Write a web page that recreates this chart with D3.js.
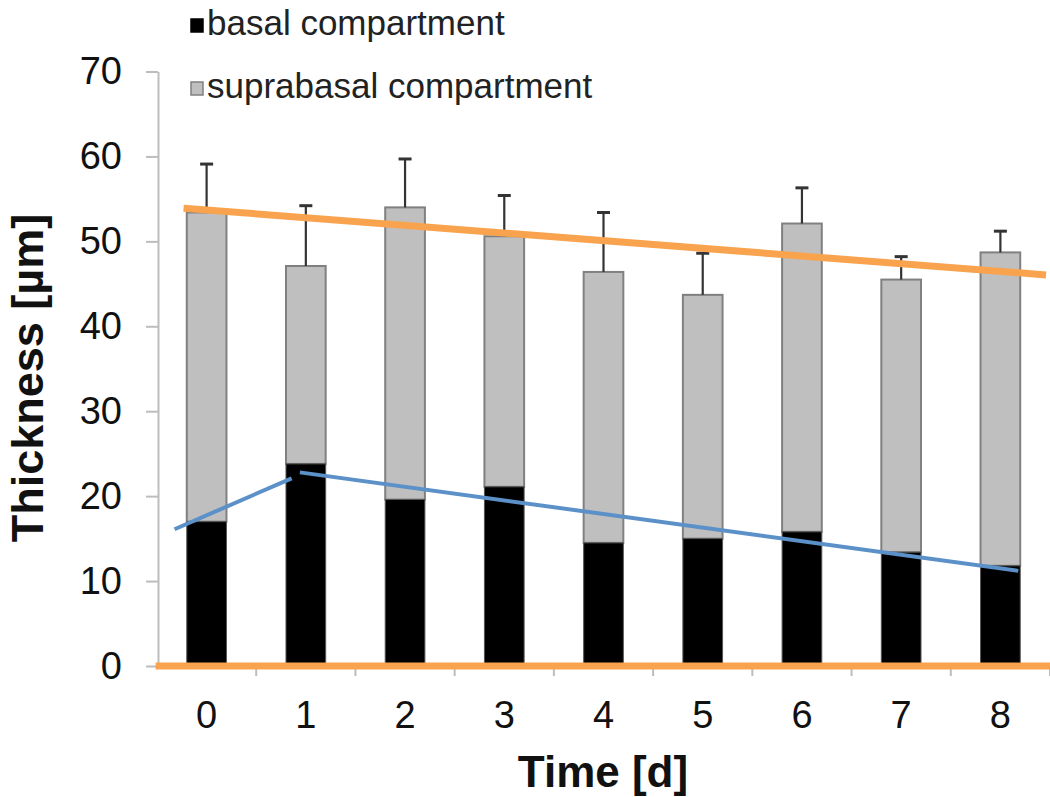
<!DOCTYPE html>
<html><head><meta charset="utf-8">
<script src="https://cdn.jsdelivr.net/npm/d3@7"></script>
<style>body{margin:0;background:#fff}svg{display:block}text{font-family:"Liberation Sans",Arial,sans-serif}</style>
</head><body>
<svg id="c" width="1050" height="797"></svg>
<script>
const days = ["0","1","2","3","4","5","6","7","8"];
const basal = [17.0, 23.8, 19.6, 21.1, 14.5, 15.0, 15.8, 13.4, 11.8];
const suprabasal = [36.4, 23.3, 34.4, 29.5, 31.9, 28.7, 36.3, 32.1, 36.9];
const errorSD = [5.7, 7.1, 5.7, 4.8, 7.0, 4.9, 4.2, 2.7, 2.5];
const yTicks = [0, 10, 20, 30, 40, 50, 60, 70];
const legendLabels = ["basal compartment", "suprabasal compartment"];
// annotation lines: [category position, value]
const orangeTop = [[-0.232, 53.9], [8.46, 46.05]];
const orangeBase = [[-0.514, 0], [8.51, 0]];
const blueSeg1 = [[-0.323, 16.1], [0.857, 22.1]];
const blueSeg2 = [[0.94, 22.8], [8.18, 11.2]];

const svg = d3.select("#c");
const x = d3.scaleBand().domain(days).range([157, 1050]).paddingInner(0.6).paddingOuter(0.3);
const y = d3.scaleLinear().domain([0, 70]).range([666, 71.5]);
const cx = i => x(days[i]) + x.bandwidth() / 2;
const xi = d3.scaleLinear().domain([0, 8]).range([cx(0), cx(8)]);
const step = x.step();

// y axis
const yAxis = d3.axisLeft(y).tickValues(yTicks).tickSize(12).tickPadding(24).tickSizeOuter(0);
const ga = svg.append("g").attr("transform", "translate(158,0)").call(yAxis);
ga.select(".domain").attr("stroke", "#bdbdbd").attr("stroke-width", 2);
ga.selectAll(".tick line").attr("stroke", "#bdbdbd").attr("stroke-width", 2);
ga.selectAll(".tick text").attr("font-size", 38).attr("fill", "#111").attr("font-family", "Liberation Sans, Arial");

// x axis
const xAxis = d3.axisBottom(x).tickSize(0).tickPadding(35);
const gx = svg.append("g").attr("transform", `translate(0,${y(0)})`).call(xAxis);
gx.select(".domain").attr("stroke", "#bdbdbd").attr("stroke-width", 2);
gx.selectAll(".tick text").attr("font-size", 38).attr("fill", "#111").attr("font-family", "Liberation Sans, Arial");
svg.append("g").selectAll("line").data(d3.range(1, 10)).join("line")
  .attr("x1", i => x.range()[0] + i * step).attr("x2", i => x.range()[0] + i * step)
  .attr("y1", y(0)).attr("y2", y(0) + 10).attr("stroke", "#bdbdbd").attr("stroke-width", 2);

// bars
const g = svg.append("g");
g.selectAll("rect.sup").data(days).join("rect").attr("class", "sup")
  .attr("x", d => x(d)).attr("width", x.bandwidth())
  .attr("y", (d, i) => y(basal[i] + suprabasal[i]))
  .attr("height", (d, i) => y(basal[i]) - y(basal[i] + suprabasal[i]))
  .attr("fill", "#bfbfbf").attr("stroke", "#808080").attr("stroke-width", 2);
g.selectAll("rect.bas").data(days).join("rect").attr("class", "bas")
  .attr("x", d => x(d)).attr("width", x.bandwidth())
  .attr("y", (d, i) => y(basal[i]))
  .attr("height", (d, i) => y(0) - y(basal[i]))
  .attr("fill", "#000").attr("stroke", "#555").attr("stroke-width", 1);

// error bars
const eg = svg.append("g").attr("stroke", "#333").attr("stroke-width", 2.2);
days.forEach((d, i) => {
  const top = basal[i] + suprabasal[i];
  eg.append("line").attr("x1", cx(i)).attr("x2", cx(i)).attr("y1", y(top)).attr("y2", y(top + errorSD[i]));
  eg.append("line").attr("x1", cx(i) - 6.5).attr("x2", cx(i) + 6.5).attr("y1", y(top + errorSD[i])).attr("y2", y(top + errorSD[i])).attr("stroke-width", 3);
});

// annotation lines
const line = d3.line().x(p => xi(p[0])).y(p => y(p[1]));
svg.append("path").attr("d", line(orangeBase)).attr("stroke", "#f9a34f").attr("stroke-width", 7).attr("fill", "none");
svg.append("path").attr("d", line(orangeTop)).attr("stroke", "#f9a34f").attr("stroke-width", 7).attr("fill", "none");
[blueSeg1, blueSeg2].forEach(s => svg.append("path").attr("d", line(s)).attr("stroke", "#5b90c8").attr("stroke-width", 4).attr("fill", "none"));

// titles
svg.append("text").attr("x", 603).attr("y", 787).attr("text-anchor", "middle")
  .attr("font-size", 44).attr("font-weight", "bold").attr("fill", "#111").text("Time [d]");
svg.append("text").attr("transform", "translate(43,378) rotate(-90)").attr("text-anchor", "middle")
  .attr("font-size", 45).attr("font-weight", "bold").attr("fill", "#111").text("Thickness [µm]");

// legend
const lg = svg.append("g");
const legendFill = ["#000", "#bfbfbf"];
const legendStroke = ["#000", "#808080"];
legendLabels.forEach((t, i) => {
  const yy = 19 + i * 63;
  lg.append("rect").attr("x", 191).attr("y", yy).attr("width", 12).attr("height", 13)
    .attr("fill", legendFill[i]).attr("stroke", legendStroke[i]).attr("stroke-width", 1.5);
  lg.append("text").attr("x", 207).attr("y", yy + 16).attr("font-size", 35).attr("fill", "#222").text(t);
});
</script>
</body></html>
